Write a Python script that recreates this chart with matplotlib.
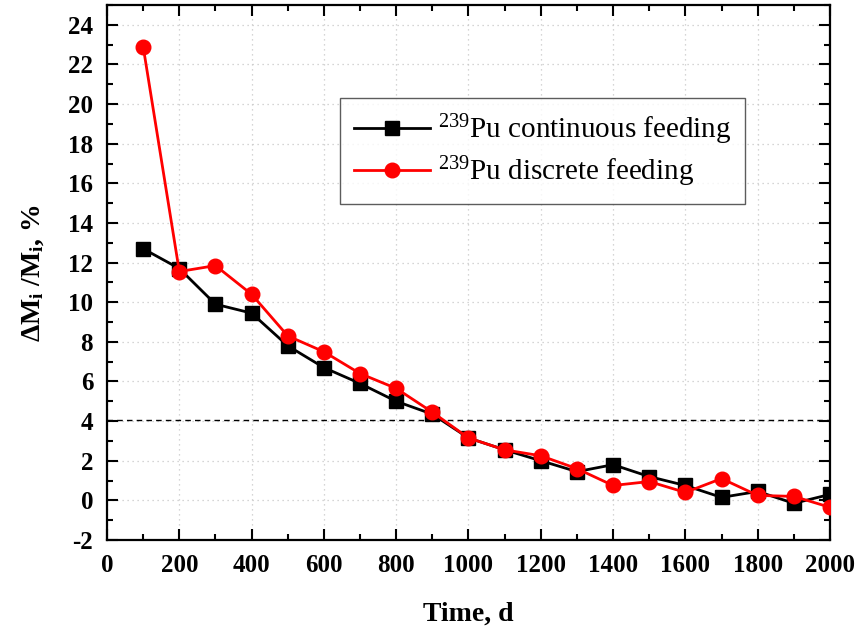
import matplotlib
matplotlib.use("Agg")
import matplotlib.pyplot as plt
from matplotlib.ticker import MultipleLocator

plt.rcParams['font.family'] = ['Liberation Serif', 'DejaVu Serif']
plt.rcParams['mathtext.fontset'] = 'custom'
plt.rcParams['mathtext.rm'] = 'Liberation Serif'
plt.rcParams['mathtext.it'] = 'Liberation Serif:italic'
plt.rcParams['mathtext.bf'] = 'Liberation Serif:bold'
plt.rcParams['axes.unicode_minus'] = False

# data
time_d = [100, 200, 300, 400, 500, 600, 700, 800, 900, 1000,
          1100, 1200, 1300, 1400, 1500, 1600, 1700, 1800, 1900, 2000]
continuous = [12.7, 11.7, 9.9, 9.45, 7.8, 6.7, 5.9, 5.0, 4.35, 3.15,
              2.55, 2.0, 1.45, 1.8, 1.2, 0.75, 0.15, 0.45, -0.15, 0.3]
discrete = [22.9, 11.55, 11.85, 10.4, 8.3, 7.5, 6.4, 5.65, 4.45, 3.15,
            2.55, 2.25, 1.6, 0.75, 0.95, 0.4, 1.1, 0.25, 0.2, -0.35]
threshold = 4.05

fig = plt.figure(figsize=(8.59, 6.32), dpi=100)
ax = fig.add_axes([0.1246, 0.1456, 0.8416, 0.8464])

ax.axhline(threshold, color='black', linestyle=(0, (4, 3)), linewidth=1.0, zorder=2)
ax.plot(time_d, continuous, color='black', marker='s', markersize=9.5,
        linewidth=2.0, label=r'$^{239}$Pu continuous feeding', zorder=3)
ax.plot(time_d, discrete, color='red', marker='o', markersize=10.5,
        linewidth=2.0, label=r'$^{239}$Pu discrete feeding', zorder=4)

ax.set_xlim(0, 2000)
ax.set_ylim(-2, 25)
ax.xaxis.set_major_locator(MultipleLocator(200))
ax.xaxis.set_minor_locator(MultipleLocator(100))
ax.yaxis.set_minor_locator(MultipleLocator(1))
ax.set_yticks(range(-2, 25, 2))

ax.grid(True, which='major', color='#c8c8c8', linestyle=(0, (1, 3)), linewidth=0.9)
ax.tick_params(which='both', direction='in', top=True, right=True, width=1.5)
ax.tick_params(which='major', length=8, labelsize=18, pad=10)
ax.tick_params(which='minor', length=4)
for lbl in ax.get_xticklabels() + ax.get_yticklabels():
    lbl.set_fontweight('bold')
for sp in ax.spines.values():
    sp.set_linewidth(1.6)

ax.set_xlabel('Time, d', fontsize=20, fontweight='bold', labelpad=18)
ax.set_ylabel(r'ΔM$_\mathbf{i}$ /M$_\mathbf{i}$, %', fontsize=20, fontweight='bold', labelpad=16)

leg = ax.legend(loc='upper left', bbox_to_anchor=(0.322, 0.636, 0.56, 0.19),
                mode='expand', fontsize=21,
                frameon=True, fancybox=False, edgecolor='#333333',
                handlelength=2.6, borderpad=0.5, borderaxespad=0.0,
                labelspacing=0.25, handletextpad=0.25)
leg.get_frame().set_linewidth(1.0)

fig.savefig('out.png', dpi=100)
